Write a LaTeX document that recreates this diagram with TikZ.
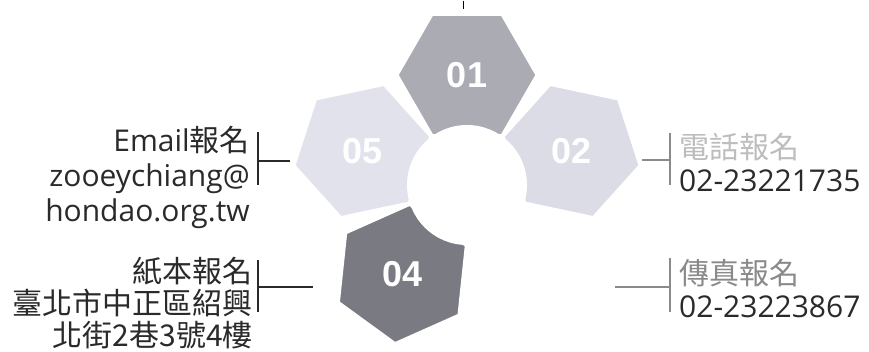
\documentclass[tikz,border=0pt]{standalone}
\usepackage{fontspec}
\setmainfont{Open Sans}
\newfontfamily\cjk{Noto Sans CJK TC}
\newfontfamily\numfont{Liberation Sans}
\usetikzlibrary{shapes.geometric}
\definecolor{hxone}{HTML}{ABABB3}
\definecolor{hxtwo}{HTML}{DCDCE6}
\definecolor{hxfour}{HTML}{7A7A82}
\definecolor{hxfive}{HTML}{E2E2EC}
\definecolor{lbink}{HTML}{2A2A2A}
\definecolor{lbgray}{HTML}{8A8A8A}
\definecolor{lbpale}{HTML}{BDBDBD}
\tikzset{
  lbl/.style={inner sep=0pt,text=lbink},
  petalno/.style={font=\numfont\bfseries\fontsize{36}{38}\selectfont,text=white}
}
\newcommand{\petal}[4]{%
  \node[regular polygon,regular polygon sides=6,minimum size=140pt,
    inner sep=0pt,fill=#3,draw=white,line width=3pt,
    shape border rotate=#2-90] (#1) at ([shift={(#2:110)}]hub) {};
  \node[petalno] (#1no) at (#1) {#4};
}
\newcommand{\bracket}[7]{%
  \coordinate (#1top) at (#2,#3);
  \coordinate (#1bot) at (#2,#4);
  \coordinate (#1mid) at (#2,#5);
  \coordinate (#1end) at (#6,#5);
  \draw[draw=#7,line width=1.6pt] (#1top) -- (#1bot);
  \draw[draw=#7,line width=1.6pt] (#1mid) -- (#1end);
}

\begin{document}
\begin{tikzpicture}[x=1pt,y=1pt,line cap=butt]
\useasboundingbox (0,0) rectangle (869,351);
\fill[white] (0,0) rectangle (869,351);

% petals round the hub
\coordinate (hub) at (467,166);
\petal{pone}{90}{hxone}{01}
\petal{ptwo}{18}{hxtwo}{02}
\petal{pfive}{162}{hxfive}{05}
\petal{pfour}{234}{hxfour}{04}
\node[circle,fill=white,minimum size=120pt,inner sep=0pt] (core) at (hub) {};

% small mark on top
\coordinate (topa) at (463,350);
\coordinate (topb) at (463,342);
\draw[line width=1pt] (topa) -- (topb);

% left side: email and paper
\node[lbl,anchor=east,align=right,font=\fontsize{30}{35}\selectfont]
  (mailtxt) at (250,174) {Email\cjk{報名}\\zooeychiang@\\hondao.org.tw};
\bracket{mail}{258}{219}{166}{190}{290}{lbink}
\node[lbl,anchor=east,align=right,font=\cjk\fontsize{30}{32}\selectfont]
  (papertxt) at (253,48) {紙本報名\\臺北市中正區紹興\\北街2巷3號4樓};
\bracket{paper}{258}{91}{39}{64}{313}{lbink}

% right side: phone and fax
\node[lbl,anchor=west,align=left,font=\fontsize{30}{33}\selectfont]
  (teltxt) at (679,189) {\textcolor{lbpale}{\cjk 電話報名}\\02-23221735};
\bracket{tel}{670}{218}{166}{191}{642}{lbgray}
\node[lbl,anchor=west,align=left,font=\fontsize{30}{33}\selectfont]
  (faxtxt) at (679,63) {\textcolor{lbgray}{\cjk 傳真報名}\\02-23223867};
\bracket{fax}{670}{93}{39}{64}{615}{lbgray}

\end{tikzpicture}
\end{document}
